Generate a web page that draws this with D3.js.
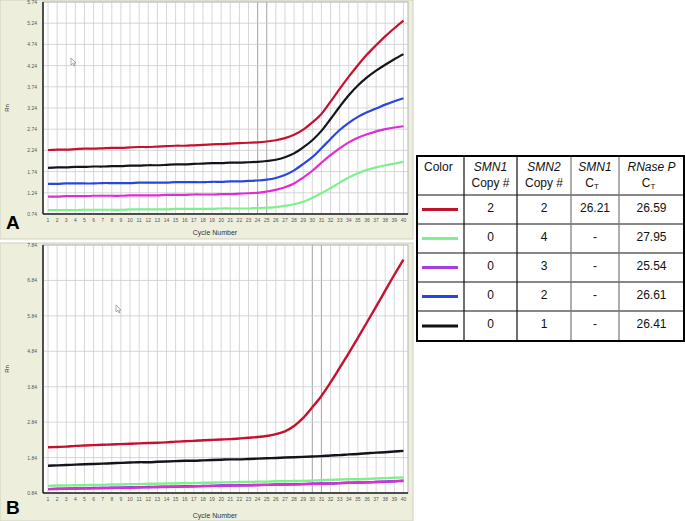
<!DOCTYPE html>
<html lang="en">
<head>
    <meta charset="UTF-8">
    <title>SMN1 / SMN2 amplification plots</title>
    <script src="https://d3js.org/d3.v7.min.js"></script>
    <style>
        body { margin: 0; background: #fff; }
        svg { display: block; font-family: "Liberation Sans", Arial, sans-serif; }
        .tick-label { font-size: 5px; fill: #555; }
        .axis-title { font-size: 7px; fill: #333; }
        .panel-letter { font-size: 19px; font-weight: bold; fill: #000; }
        .cell { font-size: 12px; fill: #111; }
    </style>
</head>
<body>
    <svg width="685" height="521"></svg>

    <script>
        const cycles = d3.range(1, 41);

        // panel A (Rn per cycle)
        const redA = [2.25,2.26,2.26,2.27,2.28,2.28,2.29,2.30,2.30,2.31,2.32,2.32,2.33,2.34,2.35,2.35,2.36,2.37,2.38,2.39,2.40,2.41,2.42,2.43,2.45,2.48,2.53,2.61,2.73,2.90,3.10,3.39,3.69,3.98,4.25,4.50,4.72,4.93,5.12,5.30];
        const blackA = [1.83,1.84,1.84,1.85,1.85,1.86,1.86,1.87,1.87,1.88,1.88,1.89,1.89,1.90,1.91,1.91,1.92,1.93,1.94,1.94,1.95,1.95,1.96,1.97,1.99,2.02,2.08,2.17,2.31,2.48,2.70,2.98,3.27,3.54,3.77,3.96,4.12,4.26,4.39,4.51];
        const blueA = [1.45,1.45,1.46,1.46,1.46,1.46,1.47,1.47,1.47,1.47,1.48,1.48,1.48,1.48,1.49,1.49,1.49,1.49,1.50,1.50,1.51,1.51,1.52,1.53,1.55,1.59,1.66,1.77,1.92,2.08,2.29,2.51,2.72,2.89,3.03,3.14,3.23,3.32,3.40,3.47];
        const magentaA = [1.15,1.15,1.16,1.16,1.16,1.17,1.17,1.17,1.17,1.18,1.18,1.18,1.18,1.19,1.19,1.19,1.20,1.20,1.20,1.21,1.21,1.22,1.23,1.24,1.27,1.31,1.37,1.46,1.60,1.76,1.95,2.13,2.29,2.43,2.54,2.62,2.69,2.74,2.78,2.81];
        const greenA = [0.83,0.83,0.83,0.83,0.84,0.84,0.84,0.84,0.84,0.85,0.85,0.85,0.85,0.85,0.86,0.86,0.86,0.86,0.86,0.87,0.87,0.87,0.87,0.88,0.89,0.90,0.93,0.97,1.03,1.12,1.23,1.35,1.48,1.60,1.70,1.78,1.84,1.89,1.93,1.97];

        // panel B
        const redB = [2.13,2.14,2.15,2.17,2.18,2.19,2.20,2.21,2.22,2.23,2.24,2.25,2.26,2.27,2.29,2.30,2.31,2.33,2.34,2.35,2.36,2.38,2.40,2.42,2.45,2.50,2.58,2.73,2.96,3.26,3.58,3.96,4.37,4.79,5.22,5.66,6.10,6.55,7.00,7.43];
        const blackB = [1.61,1.62,1.63,1.64,1.65,1.66,1.67,1.68,1.69,1.70,1.71,1.71,1.72,1.73,1.74,1.75,1.75,1.76,1.77,1.78,1.79,1.79,1.80,1.81,1.82,1.83,1.84,1.85,1.86,1.87,1.88,1.90,1.91,1.93,1.94,1.96,1.98,1.99,2.01,2.03];
        const greenB = [1.04,1.05,1.05,1.06,1.06,1.07,1.07,1.08,1.08,1.09,1.09,1.10,1.10,1.11,1.11,1.12,1.12,1.13,1.13,1.14,1.14,1.15,1.15,1.16,1.16,1.17,1.17,1.18,1.18,1.19,1.20,1.21,1.22,1.23,1.23,1.24,1.25,1.26,1.27,1.28];
        const blueB = [0.95,0.96,0.96,0.97,0.97,0.98,0.98,0.99,0.99,1.00,1.00,1.01,1.01,1.02,1.02,1.03,1.03,1.04,1.04,1.05,1.05,1.06,1.06,1.07,1.07,1.08,1.08,1.09,1.09,1.10,1.11,1.11,1.12,1.13,1.14,1.14,1.15,1.16,1.17,1.19];
        const magentaB = [0.95,0.95,0.96,0.96,0.97,0.97,0.98,0.98,0.99,0.99,1.00,1.00,1.01,1.01,1.02,1.02,1.03,1.03,1.04,1.04,1.05,1.05,1.06,1.06,1.07,1.07,1.08,1.08,1.09,1.10,1.10,1.11,1.12,1.13,1.13,1.14,1.15,1.16,1.17,1.18];

        const yTicksA = [0.74, 1.24, 1.74, 2.24, 2.74, 3.24, 3.74, 4.24, 4.74, 5.24, 5.74];
        const yTicksB = [0.84, 1.84, 2.84, 3.84, 4.84, 5.84, 6.84, 7.84];
        const darkCyclesA = [24, 25];
        const darkCyclesB = [30, 31];

        // table
        const headerTop = ["Color", "SMN1", "SMN2", "SMN1", "RNase P"];
        const headerBottom = ["", "Copy #", "Copy #", "C", "C"];
        const smn1Copy = ["2", "0", "0", "0", "0"];
        const smn2Copy = ["2", "4", "3", "2", "1"];
        const smn1Ct = ["26.21", "-", "-", "-", "-"];
        const rnasePCt = ["26.59", "27.95", "25.54", "26.61", "26.41"];
        const rowColors = ["#c0122c", "#7ef28a", "#a23ee0", "#2446dc", "#111"];

        const colors = {red: "#c8102e", black: "#14141c", blue: "#2a46e0", magenta: "#e02cd6", green: "#7ef08c"};

        const svg = d3.select("svg");

        const drawPanel = (cfg) => {
            const g = svg.append("g");

            g.append("rect")
                .attr("x", 0).attr("y", cfg.top)
                .attr("width", 413).attr("height", cfg.height)
                .attr("fill", "#edefdc")
                .attr("stroke", "#cfd1be");

            const x = d3.scaleLinear().domain([0.45, 40.5]).range([43, 408]);
            const y = d3.scaleLinear().domain(cfg.domain).range(cfg.range);

            g.append("rect")
                .attr("x", x.range()[0]).attr("y", cfg.range[1])
                .attr("width", x.range()[1] - x.range()[0])
                .attr("height", cfg.range[0] - cfg.range[1])
                .attr("fill", "#fff")
                .attr("stroke", "#b4b4b4");

            g.selectAll(".vgrid")
                .data(cycles)
                .join("line")
                .attr("x1", d => x(d)).attr("x2", d => x(d))
                .attr("y1", cfg.range[0]).attr("y2", cfg.range[1])
                .attr("stroke", d => cfg.dark.includes(d) ? "#8a8a8a" : "#cdcdcd")
                .attr("stroke-width", 0.8);

            g.selectAll(".hgrid")
                .data(cfg.ticks)
                .join("line")
                .attr("x1", x.range()[0]).attr("x2", x.range()[1])
                .attr("y1", d => y(d)).attr("y2", d => y(d))
                .attr("stroke", "#cdcdcd")
                .attr("stroke-width", 0.8);

            const line = d3.line()
                .x((d, i) => x(cycles[i]))
                .y(d => y(d))
                .curve(d3.curveCatmullRom.alpha(0.5));

            cfg.series.forEach(s => {
                g.append("path")
                    .datum(s.values)
                    .attr("fill", "none")
                    .attr("stroke", s.color)
                    .attr("stroke-width", cfg.lineWidth)
                    .attr("stroke-linejoin", "round")
                    .attr("d", line);
            });

            // axes
            g.append("line")
                .attr("x1", x.range()[0]).attr("x2", x.range()[0])
                .attr("y1", cfg.range[0]).attr("y2", cfg.range[1])
                .attr("stroke", "#222").attr("stroke-width", 1.5);
            g.append("line")
                .attr("x1", x.range()[0]).attr("x2", x.range()[1])
                .attr("y1", cfg.range[0]).attr("y2", cfg.range[0])
                .attr("stroke", "#222").attr("stroke-width", 1.5);

            g.selectAll(".ylab")
                .data(cfg.ticks)
                .join("text")
                .attr("class", "tick-label")
                .attr("x", 37)
                .attr("y", d => y(d) + 2)
                .attr("text-anchor", "end")
                .text(d => d.toFixed(2));

            g.selectAll(".xlab")
                .data(cycles)
                .join("text")
                .attr("class", "tick-label")
                .attr("x", d => x(d))
                .attr("y", cfg.range[0] + 8)
                .attr("text-anchor", "middle")
                .text(d => d);

            g.append("text")
                .attr("class", "axis-title")
                .attr("transform", `translate(9,${(cfg.range[0] + cfg.range[1]) / 2}) rotate(-90)`)
                .attr("text-anchor", "middle")
                .style("font-size", "6px")
                .text("Rn");

            g.append("text")
                .attr("class", "axis-title")
                .attr("x", 215)
                .attr("y", cfg.titleY)
                .attr("text-anchor", "middle")
                .text("Cycle Number");

            g.append("text")
                .attr("class", "panel-letter")
                .attr("x", 6)
                .attr("y", cfg.letterY)
                .text(cfg.letter);

            // mouse pointer left on the screenshot
            g.append("path")
                .attr("transform", `translate(${cfg.cursor[0]},${cfg.cursor[1]})`)
                .attr("d", "M0,0 L0,7 L1.8,5.4 L3,8 L4,7.5 L2.9,5 L5,5 Z")
                .attr("fill", "#fff")
                .attr("stroke", "#777")
                .attr("stroke-width", 0.6);
        };

        drawPanel({
            top: 0, height: 239,
            domain: [0.74, 5.74], range: [214, 2],
            ticks: yTicksA, dark: darkCyclesA,
            lineWidth: 2.2,
            titleY: 235, letterY: 229, letter: "A",
            cursor: [71, 58],
            series: [
                {values: greenA, color: colors.green},
                {values: magentaA, color: colors.magenta},
                {values: blueA, color: colors.blue},
                {values: blackA, color: colors.black},
                {values: redA, color: colors.red}
            ]
        });

        drawPanel({
            top: 243, height: 278,
            domain: [0.84, 7.84], range: [493, 245],
            ticks: yTicksB, dark: darkCyclesB,
            lineWidth: 2.4,
            titleY: 518, letterY: 514, letter: "B",
            cursor: [116, 305],
            series: [
                {values: greenB, color: colors.green},
                {values: blueB, color: colors.blue},
                {values: magentaB, color: colors.magenta},
                {values: blackB, color: colors.black},
                {values: redB, color: colors.red}
            ]
        });

        // table
        const colEdges = [417, 464, 517, 571, 619, 684];
        const rowEdges = [156, 195, 224, 253, 282, 311, 341];
        const tbl = svg.append("g");

        tbl.append("rect")
            .attr("x", colEdges[0]).attr("y", rowEdges[0])
            .attr("width", colEdges[5] - colEdges[0])
            .attr("height", rowEdges[6] - rowEdges[0])
            .attr("fill", "#fff");

        tbl.selectAll(".rowline")
            .data(rowEdges.slice(1, -1))
            .join("line")
            .attr("x1", colEdges[0]).attr("x2", colEdges[5])
            .attr("y1", d => d).attr("y2", d => d)
            .attr("stroke", "#111").attr("stroke-width", 1.2);

        tbl.selectAll(".colline")
            .data(colEdges.slice(1, -1))
            .join("line")
            .attr("x1", d => d).attr("x2", d => d)
            .attr("y1", rowEdges[0]).attr("y2", rowEdges[6])
            .attr("stroke", (d, i) => i < 2 ? "#111" : "#777")
            .attr("stroke-width", 1.2);

        tbl.append("rect")
            .attr("x", colEdges[0]).attr("y", rowEdges[0])
            .attr("width", colEdges[5] - colEdges[0])
            .attr("height", rowEdges[6] - rowEdges[0])
            .attr("fill", "none")
            .attr("stroke", "#000").attr("stroke-width", 2);

        const colMid = i => (colEdges[i] + colEdges[i + 1]) / 2;

        headerTop.forEach((h, i) => {
            tbl.append("text")
                .attr("class", "cell")
                .attr("x", i === 0 ? 424 : colMid(i))
                .attr("y", 171)
                .attr("text-anchor", i === 0 ? "start" : "middle")
                .style("font-style", i === 0 ? "normal" : "italic")
                .text(h);
        });

        headerBottom.forEach((h, i) => {
            if (!h) return;
            const t = tbl.append("text")
                .attr("class", "cell")
                .attr("x", colMid(i) - (i >= 3 ? 3 : 0))
                .attr("y", 187)
                .attr("text-anchor", "middle")
                .text(h);
            if (i >= 3) {
                t.append("tspan")
                    .attr("dy", 1.5)
                    .style("font-size", "8px")
                    .text("T");
            }
        });

        const bodyCols = [smn1Copy, smn2Copy, smn1Ct, rnasePCt];
        rowColors.forEach((c, r) => {
            const cy = (rowEdges[r + 1] + rowEdges[r + 2]) / 2;
            tbl.append("line")
                .attr("x1", 422).attr("x2", 458)
                .attr("y1", cy).attr("y2", cy)
                .attr("stroke", c).attr("stroke-width", 3);
            bodyCols.forEach((col, k) => {
                tbl.append("text")
                    .attr("class", "cell")
                    .attr("x", colMid(k + 1))
                    .attr("y", cy + 2)
                    .attr("text-anchor", "middle")
                    .attr("fill", col[r] === "-" ? "#777" : "#111")
                    .text(col[r]);
            });
        });
    </script>
</body>
</html>
